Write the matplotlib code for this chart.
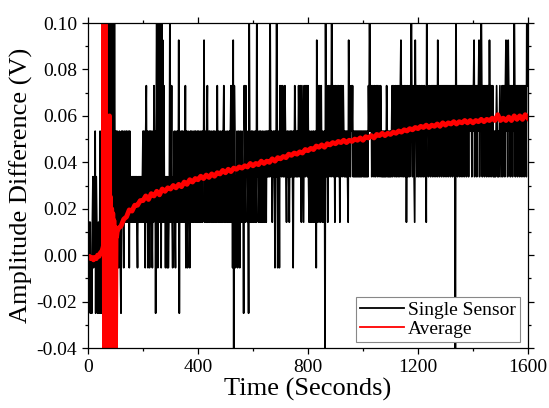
import numpy as np
import matplotlib
matplotlib.use("Agg")
import matplotlib.pyplot as plt
from matplotlib.ticker import MultipleLocator, FormatStrFormatter

# quantised output levels of the single sensor (V); 0 and 8 sit off the axes
LEVELS = [-0.0446, -0.0250, -0.0054, 0.0142, 0.0338, 0.0534, 0.0730, 0.0926, 0.1122]
SENSOR_STEP = 2  # seconds per character below

# one digit per sample = index into LEVELS, one line per 100 s
SENSOR_TRACE = (
    "31323121342435143213125131210281038283828373828384"
    "25352425321535325345353452534343434343432434343434"
    "53542563524525353253645158328383728373634243242348"
    "34632435325435371534535435362532534253543534535435"
    "35435345354735435634535435345354353643543534535634"
    "35435345356362706524352453253453416536453418534535"
    "43543538453453543534534535454548545345452548524526"
    "56456454654354543545454254654545465465365436546564"
    "64354353453543527436463564354350846536456548654653"
    "64565465365645654545454375645656454545454545454545"
    "54545454546586564565465465645654654545454546545454"
    "54564565465465465467546546546356456456854654375645"
    "64564564564564538564565465646564656475646564656465"
    "64656465646564656408564656465646564656465646565646"
    "56746564656746586465646564656475646564545456545456"
    "54564656467564765646564658646564656465646564656486"
)

# averaged signal (mV)
RED_TIME = ([0, 5, 10, 15, 20, 25, 30, 35, 40, 45, 50, 54]
            + list(range(56, 107, 2))
            + list(range(110, 1601, 10)))
RED_MV = [
    -1, -0.5, -1.5, -1, -2, -1, -1.5, 0, -0.5, 1, 1.5, 3,
    # start-up transient, 56 s to 106 s
    4, 110, -50, 110, -50, -50, 15, -50, 20, -50, 35, 60, -50,
    25, -50, 20, -50, 18, -50, 15, -45, 12, -40, 9, 8, 10,
    # 110 s onwards, every 10 s
    11.5, 12.5, 15.5, 16.5, 19.5, 19, 21.5, 21.5, 23.5, 23.5,
    25.5, 24, 26.5, 25.5, 27.5, 26, 28.5, 27.5, 29, 28.5,
    30, 29, 30.5, 29.5, 31.5, 30.5, 32.5, 31.5, 33, 32.5,
    34, 33, 34.5, 33.5, 35, 34, 35.5, 35, 36.5, 35.5,
    37, 36, 37.5, 37, 38, 37.5, 38.5, 38, 39.5, 38.5,
    39.5, 39, 40.5, 39.5, 40.5, 40, 41.5, 40.5, 42, 41.5,
    42.5, 42, 43.5, 43, 44, 43.5, 44.5, 44, 45.5, 45,
    46, 45.5, 47, 46.5, 47.5, 46.5, 48, 47.5, 48.5, 48,
    49, 48.5, 49.5, 48.5, 49.5, 49, 50, 49.5, 50.5, 49.5,
    51, 50.5, 51.5, 50.5, 52, 51.5, 52.5, 51.5, 52.5, 52,
    53, 52.5, 53.5, 53, 54, 53.5, 54.5, 54, 55, 54.5,
    55.5, 55, 56, 55, 56, 55.5, 56.5, 55.5, 57, 56,
    57, 56.5, 57.5, 56.5, 57.5, 57, 58, 57, 58, 57,
    58, 57.5, 58.5, 57.5, 58.5, 58, 59, 58, 60.5, 58,
    59, 58, 59.5, 58, 60, 58.5, 60, 58.5, 60.5, 59,
]

plt.rcParams["font.family"] = ["Liberation Serif", "DejaVu Serif"]

sensor_t = np.arange(len(SENSOR_TRACE)) * SENSOR_STEP
sensor_v = np.array([LEVELS[int(c)] for c in SENSOR_TRACE])
red_v = np.array(RED_MV) / 1000.0

fig = plt.figure(figsize=(5.49, 4.08), dpi=100)
ax = fig.add_axes([0.1603, 0.147, 0.8014, 0.7966])

ax.plot(sensor_t, sensor_v, color="black", linewidth=1.25, label="Single Sensor")
ax.plot(RED_TIME, red_v, color="#ff0000", linewidth=3.5, label="Average")

ax.set_xlim(0, 1600)
ax.set_ylim(-0.04, 0.10)
ax.xaxis.set_major_locator(MultipleLocator(400))
ax.xaxis.set_minor_locator(MultipleLocator(200))
ax.yaxis.set_major_locator(MultipleLocator(0.02))
ax.yaxis.set_minor_locator(MultipleLocator(0.01))
ax.yaxis.set_major_formatter(FormatStrFormatter("%.2f"))

ax.tick_params(which="both", direction="out", top=True, right=True,
               labelsize=14, width=0.9)
ax.tick_params(which="major", length=4, pad=4)
ax.tick_params(which="minor", length=2.5)
for sp in ax.spines.values():
    sp.set_linewidth(0.9)

ax.set_xlabel("Time (Seconds)", fontsize=19, labelpad=1)
ax.set_ylabel("Amplitude Difference (V)", fontsize=19, labelpad=2)

handles = [plt.Line2D([], [], color="black", linewidth=1.3),
           plt.Line2D([], [], color="#ff0000", linewidth=1.3)]
leg = ax.legend(handles, ["Single Sensor", "Average"], loc="lower right",
                bbox_to_anchor=(0.982, 0.018), borderaxespad=0, fontsize=14,
                fancybox=False, framealpha=1, edgecolor="#888888",
                handlelength=2.3, handletextpad=0.2, labelspacing=0.1,
                borderpad=0.2)
leg.get_frame().set_linewidth(0.8)

fig.savefig("out.png", dpi=100)
